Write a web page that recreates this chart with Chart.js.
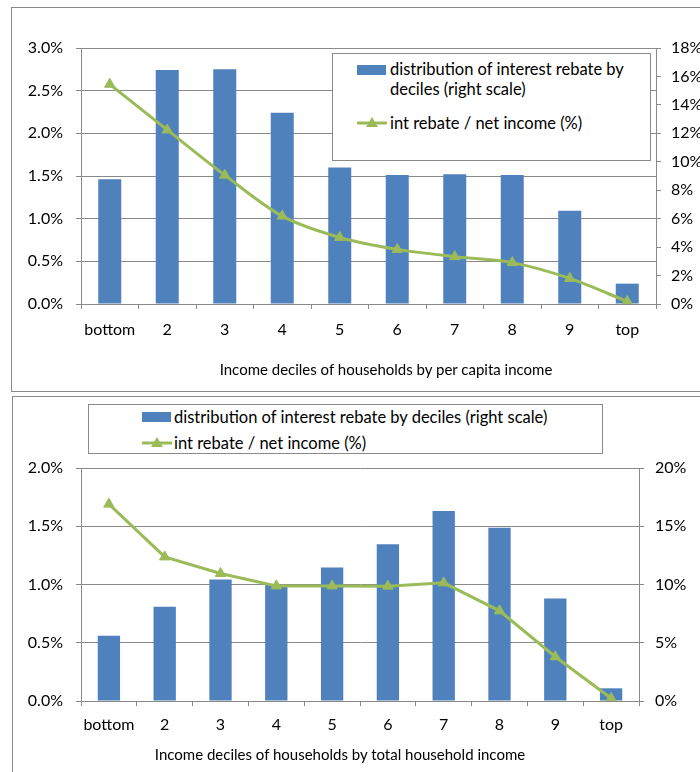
<!DOCTYPE html>
<html>
<head>
<meta charset="utf-8">
<script src="https://cdn.jsdelivr.net/npm/chart.js@4.4.1/dist/chart.umd.min.js"></script>
<style>
  body { margin: 0; width: 700px; height: 772px; overflow: hidden; background: #fff; position: relative; font-family: Lato, sans-serif; color: #000; }
  .box { position: absolute; border: 1px solid #8a8a8a; background: #fff; }
  canvas { position: absolute; left: 0; }
  .legend { position: absolute; background: #fff; border: 1px solid #8a8a8a; font-size: 16.5px; }
  .legend span, .legend i, .legend svg { position: absolute; white-space: nowrap; }
  .legend span { line-height: 20px; }
  .legend i { display: block; width: 29px; height: 10px; background: #4F81BD; }
  .xtitulo { position: absolute; width: 400px; margin-left: -200px; text-align: center; font-size: 15px; line-height: 20px; white-space: nowrap; }
</style>
</head>
<body>
<div class="box" style="left:11px; top:7px; width:720px; height:383px;"></div>
<div class="box" style="left:12px; top:396px; width:720px; height:400px;"></div>

<canvas id="chart1" width="720" height="390" style="top:0px"></canvas>
<canvas id="chart2" width="720" height="382" style="top:390px"></canvas>

<!-- titulos do eixo x (posicionados como no original) -->
<div class="xtitulo" style="left:386px; top:359px;">Income deciles of households by per capita income</div>
<div class="xtitulo" style="left:340px; top:744px;">Income deciles of households by total household income</div>

<!-- legenda grafico 1 -->
<div class="legend" style="left:332px; top:53px; width:317px; height:106px;">
  <i style="left:24px; top:11px;"></i>
  <span style="left:57px; top:5px;">distribution of interest rebate by<br>deciles (right scale)</span>
  <svg style="left:24px; top:62px;" width="30" height="14"><line x1="0" y1="7" x2="30" y2="7" stroke="#9BBB59" stroke-width="3"/><polygon points="15,1 21,11 9,11" fill="#9BBB59"/></svg>
  <span style="left:57px; top:59px;">int rebate / net income (%)</span>
</div>

<!-- legenda grafico 2 -->
<div class="legend" style="left:88px; top:404px; width:513px; height:48px;">
  <i style="left:53px; top:7px;"></i>
  <span style="left:85px; top:2px;">distribution of interest rebate by deciles (right scale)</span>
  <svg style="left:53px; top:31px;" width="30" height="14"><line x1="0" y1="7" x2="30" y2="7" stroke="#9BBB59" stroke-width="3"/><polygon points="15,1 21,11 9,11" fill="#9BBB59"/></svg>
  <span style="left:85px; top:28px;">int rebate / net income (%)</span>
</div>

<script>
// Categorias (decis)
const decis = ['bottom', '2', '3', '4', '5', '6', '7', '8', '9', 'top'];

// Grafico 1: por renda per capita
const distPerCapita = [8.77, 16.46, 16.5, 13.45, 9.59, 9.07, 9.12, 9.07, 6.56, 1.43];
const rebatePerCapita = [2.575, 2.04, 1.51, 1.03, 0.78, 0.64, 0.555, 0.485, 0.30, 0.03];

// Grafico 2: por renda total do domicilio
const distTotal = [5.6, 8.08, 10.43, 9.95, 11.46, 13.45, 16.31, 14.88, 8.8, 1.09];
const rebateTotal = [1.69, 1.237, 1.094, 0.988, 0.988, 0.986, 1.014, 0.774, 0.38, 0.023];

const corBarra = '#4F81BD';
const corLinha = '#9BBB59';
const corEixo = '#8a8a8a';

Chart.defaults.font.family = 'Lato, sans-serif';
Chart.defaults.font.size = 16;
Chart.defaults.color = '#000';

// Cria um grafico combinado (barras no eixo direito, linha no eixo esquerdo)
function criarGrafico(id, op) {
  const canvas = document.getElementById(id);
  return new Chart(canvas, {
    type: 'bar',
    data: {
      labels: decis,
      datasets: [
        {
          type: 'line',
          label: 'int rebate / net income (%)',
          data: op.linha,
          yAxisID: 'yL',
          borderColor: corLinha,
          backgroundColor: corLinha,
          borderWidth: 3,
          pointStyle: 'triangle',
          pointRadius: 6,
          pointBorderWidth: 1,
          tension: op.tension,
          order: 0
        },
        {
          type: 'bar',
          label: 'distribution of interest rebate by deciles (right scale)',
          data: op.barras,
          yAxisID: 'yR',
          backgroundColor: corBarra,
          borderWidth: 0,
          barPercentage: 0.4,
          categoryPercentage: 1,
          order: 1
        }
      ]
    },
    options: {
      responsive: false,
      animation: false,
      layout: { padding: { top: op.top, left: 0, right: 0, bottom: 0 } },
      plugins: { legend: { display: false }, tooltip: { enabled: false } },
      scales: {
        x: {
          grid: { offset: true, drawOnChartArea: false, color: corEixo, tickLength: 5 },
          border: { color: corEixo },
          ticks: { maxRotation: 0, autoSkip: false, padding: op.xPad },
          afterFit: s => { s.height = canvas.height - op.bottom; }
        },
        yL: {
          position: 'left',
          min: 0, max: op.maxL,
          grid: { color: corEixo, tickLength: 5 },
          border: { color: corEixo },
          ticks: { stepSize: op.stepL, padding: 13, callback: v => v.toFixed(1) + '%' },
          afterFit: s => { s.width = 81; }
        },
        yR: {
          position: 'right',
          min: 0, max: op.maxR,
          grid: { drawOnChartArea: false, color: corEixo, tickLength: 5 },
          border: { color: corEixo },
          ticks: { stepSize: op.stepR, padding: op.rPad, callback: v => v + '%' },
          afterFit: s => { s.width = canvas.width - op.right; }
        }
      }
    }
  });
}

criarGrafico('chart1', {
  barras: distPerCapita, linha: rebatePerCapita, tension: 0.3,
  maxL: 3, stepL: 0.5, maxR: 18, stepR: 2,
  top: 48, bottom: 304, right: 656, xPad: 11, rPad: 10
});

criarGrafico('chart2', {
  barras: distTotal, linha: rebateTotal, tension: 0,
  maxL: 2, stepL: 0.5, maxR: 20, stepR: 5,
  top: 78, bottom: 311, right: 639, xPad: 9, rPad: 11
});
</script>
</body>
</html>
